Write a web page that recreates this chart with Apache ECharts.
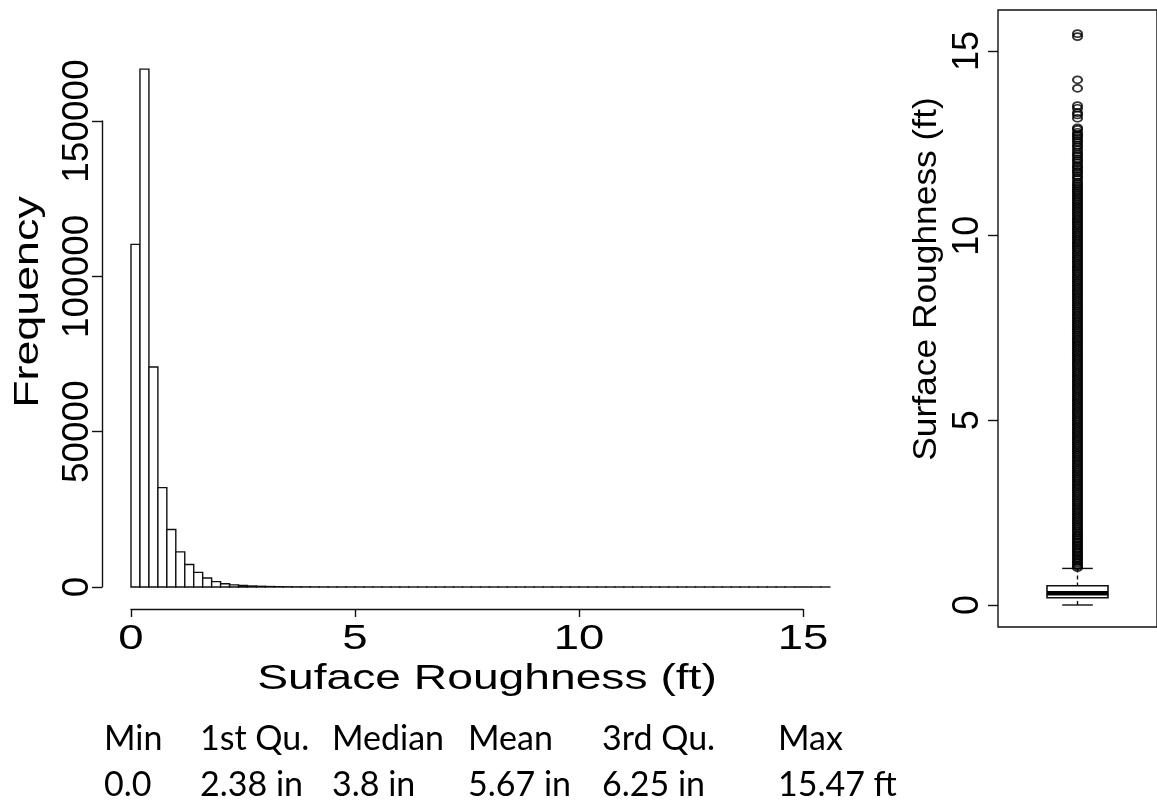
<!DOCTYPE html>
<html>
<head>
<meta charset="utf-8">
<script src="https://cdn.jsdelivr.net/npm/echarts@6/dist/echarts.min.js"></script>
<style>
html,body{margin:0;padding:0;background:#fff;}
#c{width:1157px;height:801px;}
</style>
</head>
<body>
<div id="c"></div>
<script>
// ---------------- data ----------------
const binWidth = 0.2; // ft, histogram bins from 0 to 15.6
const histCounts = [
  110300, 166700, 70800, 32000, 18500, 11300, 7250, 4720, 2880, 1730,
  1040, 690, 460, 320, 220, 150, 100, 70, 50, 38,
  28, 21, 16, 12, 9, 7, 6, 5, 4, 3,
  3, 2, 2, 2, 1, 1, 1, 1, 1, 1,
  1, 1, 1, 1, 1, 1, 1, 1, 1, 1,
  1, 1, 1, 1, 1, 1, 1, 1, 1, 1,
  1, 1, 1, 1, 1, 1, 1, 1, 1, 1,
  1, 1, 1, 1, 0, 0, 1, 1
];
const histXTicks = [0, 5, 10, 15];
const histYTicks = [0, 50000, 100000, 150000];
const histXTitle = 'Suface Roughness (ft)';
const histYTitle = 'Frequency';

// boxplot: lower whisker, Q1, median, Q3, upper whisker (ft)
const boxStats = [0, 0.198, 0.317, 0.521, 0.99];
const boxTicks = [0, 5, 10, 15];
const boxTitle = 'Surface Roughness (ft)';
const outliers = [
  1.01,1.05,1.09,1.14,1.18,1.23,1.27,1.32,1.36,1.41,1.45,1.5,1.54,1.59,1.63,1.68,1.72,1.77,1.81,1.86,1.9,1.95,
  2,2.05,2.1,2.15,2.2,2.25,2.3,2.35,2.4,2.45,2.5,2.55,2.6,2.65,2.7,2.75,2.8,2.85,2.9,2.95,
  3,3.05,3.1,3.15,3.2,3.25,3.3,3.35,3.4,3.45,3.5,3.55,3.6,3.65,3.7,3.75,3.8,3.85,3.9,3.95,
  4,4.05,4.1,4.15,4.2,4.25,4.3,4.35,4.4,4.45,4.5,4.55,4.6,4.65,4.7,4.75,4.8,4.85,4.9,4.95,
  5,5.05,5.1,5.15,5.2,5.25,5.3,5.35,5.4,5.45,5.5,5.55,5.6,5.65,5.7,5.75,5.8,5.85,5.9,5.95,
  6,6.05,6.1,6.15,6.2,6.25,6.3,6.35,6.4,6.45,6.5,6.55,6.6,6.65,6.7,6.75,6.8,6.85,6.9,6.95,
  7,7.05,7.1,7.15,7.2,7.25,7.3,7.35,7.4,7.45,7.5,7.55,7.6,7.65,7.7,7.75,7.8,7.85,7.9,7.95,
  8,8.05,8.1,8.15,8.2,8.25,8.3,8.35,8.4,8.45,8.5,8.55,8.6,8.65,8.7,8.75,8.8,8.85,8.9,8.95,
  9,9.05,9.1,9.15,9.2,9.25,9.3,9.35,9.4,9.45,9.5,9.55,9.6,9.65,9.7,9.75,9.8,9.85,9.9,9.95,
  10,10.05,10.1,10.15,10.2,10.25,10.3,10.35,10.4,10.45,10.5,10.55,10.6,10.65,10.7,10.75,10.8,10.85,10.9,10.95,
  11,11.05,11.1,11.15,11.2,11.25,11.3,11.35,11.4,11.45,
  11.52,11.58,11.63,11.7,11.74,11.8,11.86,11.9,11.97,12.03,12.08,12.15,12.2,12.26,12.33,12.4,12.45,12.52,12.58,12.64,12.7,12.74,12.8,12.88,12.92,
  13.18,13.27,13.33,13.45,13.52,13.99,14.22,15.39,15.47
];

const statNames = ['Min', '1st Qu.', 'Median', 'Mean', '3rd Qu.', 'Max'];
const statValues = ['0.0', '2.38 in', '3.8 in', '5.67 in', '6.25 in', '15.47 ft'];

// ---------------- styling / layout constants ----------------
const LINE = '#111';
const RFONT = '"Liberation Sans", Arial, sans-serif';
const TFONT = 'Lato, "Open Sans", sans-serif';
const statColLeft = [104, 200, 332, 468, 602, 778];
const statRowMid = [739, 785];

const histData = histCounts.map((c, i) => [i * binWidth, (i + 1) * binWidth, c]);

const chart = echarts.init(document.getElementById('c'), null, {renderer: 'canvas'});

const option = {
  animation: false,
  backgroundColor: '#fff',
  grid: [
    {left: 131, width: 672, top: 121, height: 466},
    {left: 998, width: 161, top: 10, height: 617, show: true,
     borderColor: LINE, borderWidth: 1.4, backgroundColor: 'transparent'}
  ],
  xAxis: [
    {gridIndex: 0, type: 'value', min: 0, max: 15, interval: 5, offset: 22,
     axisLine: {show: true, onZero: false, lineStyle: {color: LINE, width: 1.4}},
     axisTick: {show: true, length: 8, lineStyle: {color: LINE, width: 1.4}},
     axisLabel: {show: false}, splitLine: {show: false}},
    {gridIndex: 1, type: 'value', min: 0, max: 2, show: false}
  ],
  yAxis: [
    {gridIndex: 0, type: 'value', min: 0, max: 150000, interval: 50000, offset: 29,
     axisLine: {show: true, onZero: false, lineStyle: {color: LINE, width: 1.4}},
     axisTick: {show: true, length: 10, lineStyle: {color: LINE, width: 1.4}},
     axisLabel: {show: true, rotate: 90, fontSize: 37, fontFamily: RFONT, color: '#000', margin: 6,
                 formatter: v => String(v)},
     splitLine: {show: false}},
    {gridIndex: 1, type: 'value', min: -0.596, max: 16.11,
     axisLine: {show: false, onZero: false},
     axisTick: {show: true, length: 10, customValues: boxTicks, lineStyle: {color: LINE, width: 1.4}},
     axisLabel: {show: true, customValues: boxTicks, rotate: 90, fontSize: 36, fontFamily: RFONT, color: '#000', margin: 12,
                 formatter: v => String(v)},
     splitLine: {show: false}}
  ],
  series: [
    {
      type: 'custom', xAxisIndex: 0, yAxisIndex: 0, clip: false, silent: true,
      data: histData,
      encode: {x: [0, 1], y: 2},
      renderItem: function (params, api) {
        const p0 = api.coord([api.value(0), api.value(2)]);
        const p1 = api.coord([api.value(1), 0]);
        return {
          type: 'rect',
          shape: {x: p0[0], y: p0[1], width: p1[0] - p0[0], height: p1[1] - p0[1]},
          style: {fill: '#fff', stroke: LINE, lineWidth: 1.4}
        };
      }
    },
    {
      type: 'custom', xAxisIndex: 1, yAxisIndex: 1, clip: false, silent: true,
      data: [[1].concat(boxStats)],
      encode: {x: 0, y: [1, 2, 3, 4, 5]},
      renderItem: function (params, api) {
        const cx = api.value(0);
        const lo = api.coord([cx, api.value(1)]);
        const q1 = api.coord([cx, api.value(2)]);
        const md = api.coord([cx, api.value(3)]);
        const q3 = api.coord([cx, api.value(4)]);
        const hi = api.coord([cx, api.value(5)]);
        const bh = 30.5, ch = 15.3;
        const st = {stroke: LINE, lineWidth: 1.4};
        return {
          type: 'group',
          children: [
            {type: 'line', shape: {x1: hi[0], y1: hi[1], x2: q3[0], y2: q3[1]}, style: Object.assign({lineDash: [4, 3]}, st)},
            {type: 'line', shape: {x1: lo[0], y1: lo[1], x2: q1[0], y2: q1[1]}, style: Object.assign({lineDash: [4, 3]}, st)},
            {type: 'line', shape: {x1: hi[0] - ch, y1: hi[1], x2: hi[0] + ch, y2: hi[1]}, style: st},
            {type: 'line', shape: {x1: lo[0] - ch, y1: lo[1], x2: lo[0] + ch, y2: lo[1]}, style: st},
            {type: 'rect', shape: {x: q3[0] - bh, y: q3[1], width: 2 * bh, height: q1[1] - q3[1]},
             style: {fill: '#fff', stroke: LINE, lineWidth: 1.6}},
            {type: 'line', shape: {x1: md[0] - bh, y1: md[1], x2: md[0] + bh, y2: md[1]},
             style: {stroke: '#000', lineWidth: 4.5}}
          ]
        };
      }
    },
    {
      type: 'scatter', xAxisIndex: 1, yAxisIndex: 1, silent: true,
      data: outliers.map(v => [1, v]),
      symbol: 'circle', symbolSize: [9, 7],
      itemStyle: {color: 'rgba(0,0,0,0)', borderColor: '#000', borderWidth: 1.9}
    }
  ]
};
chart.setOption(option);

// ---------- text drawn through the library (positions from its scales) ----------
function txt(text, x, y, size, family, opts) {
  opts = opts || {};
  return Object.assign({
    type: 'text', x: x, y: y, silent: true,
    style: {
      text: text, fontSize: size, fontFamily: family, fill: '#000',
      align: opts.align || 'center', verticalAlign: 'middle',
      textAlign: opts.align || 'center', textVerticalAlign: 'middle'
    }
  }, opts.el || {});
}

const gfx = [];
const zeroPx = chart.convertToPixel({gridIndex: 0}, [0, 0]);
const xAxisLineY = zeroPx[1] + 22;
histXTicks.forEach(v => {
  const px = chart.convertToPixel({xAxisIndex: 0}, v);
  gfx.push(txt(String(v), px, xAxisLineY + 30, 35, RFONT, {el: {scaleX: 1.3}}));
});
gfx.push(txt(histXTitle, 487, 679, 35, RFONT, {el: {scaleX: 1.32}}));
gfx.push(txt(histYTitle, 28, 302, 35, RFONT, {el: {rotation: Math.PI / 2, scaleX: 1.28}}));
gfx.push(txt(boxTitle, 927, 279, 34, RFONT, {el: {rotation: Math.PI / 2, scaleX: 1.04}}));
statNames.forEach((s, i) => gfx.push(txt(s, statColLeft[i], statRowMid[0], 34, TFONT, {align: 'left'})));
statValues.forEach((s, i) => gfx.push(txt(s, statColLeft[i], statRowMid[1], 34, TFONT, {align: 'left'})));

chart.setOption({graphic: {elements: gfx}});
</script>
</body>
</html>
